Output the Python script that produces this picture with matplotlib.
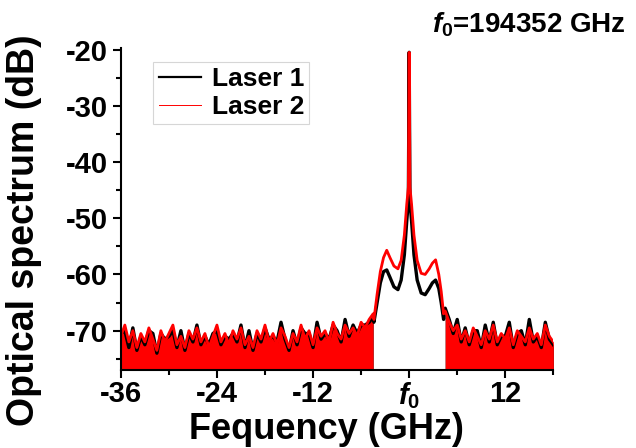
import numpy as np
import matplotlib
matplotlib.use("Agg")
from matplotlib import pyplot as plt
from matplotlib.lines import Line2D
from matplotlib.ticker import MultipleLocator

plt.rcParams["font.family"] = ["Liberation Sans", "DejaVu Sans"]
plt.rcParams["font.weight"] = "bold"
plt.rcParams["axes.labelweight"] = "bold"
plt.rcParams["axes.unicode_minus"] = False
plt.rcParams["mathtext.fontset"] = "custom"
plt.rcParams["mathtext.it"] = "Liberation Sans:italic:bold"
plt.rcParams["mathtext.rm"] = "Liberation Sans:bold"

# noise floor, left side (-36 .. -4.5 GHz, 0.5 GHz steps)
freq_left = np.arange(-36.0, -4.25, 0.5)
laser2_left = [-71.0, -69.0, -72.0, -70.0, -73.0, -70.5, -72.0, -69.5, -71.5, -73.5, -70.0, -72.0, -70.5, -69.0, -72.5, -71.0,
               -73.0, -70.0, -71.5, -69.5, -72.0, -70.5, -73.0, -71.0, -69.0, -72.0, -70.5, -72.5, -70.0, -71.5, -69.5, -72.5,
               -71.0, -73.0, -70.0, -71.5, -69.0, -72.0, -70.5, -72.5, -69.5, -71.0, -73.0, -70.5, -72.0, -69.0, -71.5, -70.0,
               -72.5, -69.5, -71.0, -70.0, -72.0, -68.5, -70.5, -71.5, -69.0, -70.5, -69.5, -71.0, -68.5, -69.5, -68.0, -67.0]
laser1_left = [-70.5, -70.0, -73.0, -69.5, -73.5, -71.0, -72.5, -70.0, -70.5, -74.0, -70.5, -71.5, -71.0, -70.0, -73.0, -70.0,
               -73.5, -70.5, -72.0, -69.0, -72.5, -71.0, -72.5, -70.5, -70.0, -72.5, -71.0, -71.5, -70.5, -72.0, -69.0, -73.0,
               -70.0, -73.5, -70.5, -72.0, -69.5, -71.5, -71.0, -72.0, -68.5, -71.5, -73.5, -70.0, -72.5, -69.5, -70.5, -70.5,
               -73.0, -68.5, -71.5, -70.5, -71.5, -69.0, -70.0, -72.0, -68.0, -71.0, -69.0, -70.5, -69.0, -69.0, -68.5, -67.5]

# laser line and side bands
freq_mid = [-4.4, -4.0, -3.6, -3.2, -2.8, -2.4, -1.9, -1.4, -1.0, -0.6, -0.3, -0.1, 0.0,
            0.1, 0.3, 0.6, 1.0, 1.5, 2.0, 2.5, 2.9, 3.3, 3.7, 4.0, 4.3]
laser2_mid = [-68.0, -63.5, -59.5, -57.0, -55.7, -57.0, -58.5, -59.0, -57.5, -53.0, -47.5, -44.5, -20.5,
              -44.5, -47.5, -53.0, -57.5, -59.8, -60.0, -59.0, -58.0, -57.4, -60.0, -63.0, -67.0]
laser1_mid = [-68.5, -65.0, -61.5, -59.5, -59.2, -60.5, -62.2, -62.7, -61.0, -56.5, -50.5, -47.0, -20.5,
              -47.0, -50.5, -56.5, -61.0, -63.3, -63.6, -62.5, -61.5, -61.0, -62.5, -65.0, -68.0]

# noise floor, right side (4.5 .. 18 GHz)
freq_right = np.arange(4.5, 18.25, 0.5)
laser2_right = [-66.5, -68.5, -70.0, -69.0, -71.5, -70.0, -72.0, -69.5, -71.0, -72.5, -70.0, -71.5, -69.0, -72.0, -70.5, -71.5,
                -69.5, -72.5, -70.0, -71.0, -72.0, -69.5, -71.5, -70.5, -72.5, -69.0, -71.0, -72.0]
laser1_right = [-66.0, -68.0, -70.5, -68.0, -72.0, -69.5, -72.5, -70.0, -70.0, -73.0, -69.0, -72.0, -68.5, -72.5, -71.0, -71.0,
                -68.5, -73.0, -70.5, -70.0, -72.5, -68.0, -72.0, -71.0, -73.0, -68.5, -71.5, -72.5]

tick_pos = [-36, -24, -12, 0, 12]
tick_labels = ["-36", "-24", "-12", r"$f_0$", "12"]


def draw_series(ax, left, mid, right, color, lw):
    x = np.concatenate([freq_left, freq_mid, freq_right])
    y = np.concatenate([left, mid, right])
    ax.fill_between(freq_left, -80, left, color=color, lw=0)
    ax.fill_between(freq_right, -80, right, color=color, lw=0)
    ax.plot(x, y, color=color, lw=lw)


fig = plt.figure(figsize=(6.36, 4.48), dpi=100)
ax = fig.add_axes([0.19, 0.174, 0.68, 0.718])

draw_series(ax, laser1_left, laser1_mid, laser1_right, "black", 2.4)
draw_series(ax, laser2_left, laser2_mid, laser2_right, "red", 2.0)

ax.set_xlim(-36, 18)
ax.set_ylim(-77, -19.8)
ax.set_xticks(tick_pos)
ax.set_xticklabels(tick_labels)
ax.xaxis.set_minor_locator(MultipleLocator(6))
ax.yaxis.set_major_locator(MultipleLocator(10))
ax.yaxis.set_minor_locator(MultipleLocator(5))
ax.tick_params(which="both", direction="out", width=1.5, labelsize=21)
ax.tick_params(which="major", length=6)
ax.tick_params(which="minor", length=3.5)
ax.tick_params(axis="x", pad=1)
for side in ["top", "right"]:
    ax.spines[side].set_visible(False)
for side in ["left", "bottom"]:
    ax.spines[side].set_linewidth(1.5)

ax.set_xlabel("Fequency (GHz)", fontsize=26)
ax.xaxis.set_label_coords(0.475, -0.13)
ax.set_ylabel("Optical spectrum (dB)", fontsize=27)
ax.yaxis.set_label_coords(-0.183, 0.435)

handles = [Line2D([], [], color="black", lw=1.6), Line2D([], [], color="red", lw=0.7)]
leg = ax.legend(handles, ["Laser 1", "Laser 2"], loc="upper left", bbox_to_anchor=(0.045, 1.0),
                fontsize=19, frameon=True, fancybox=False, handlelength=1.6, handletextpad=0.4,
                borderpad=0.2, labelspacing=0.15)
leg.get_frame().set_edgecolor("#cccccc")
leg.get_frame().set_linewidth(0.8)

fig.text(0.68, 0.944, r"$f_0$=194352 GHz", fontsize=20, fontweight="bold", va="center")

fig.savefig("out.png", dpi=100, facecolor="white")
